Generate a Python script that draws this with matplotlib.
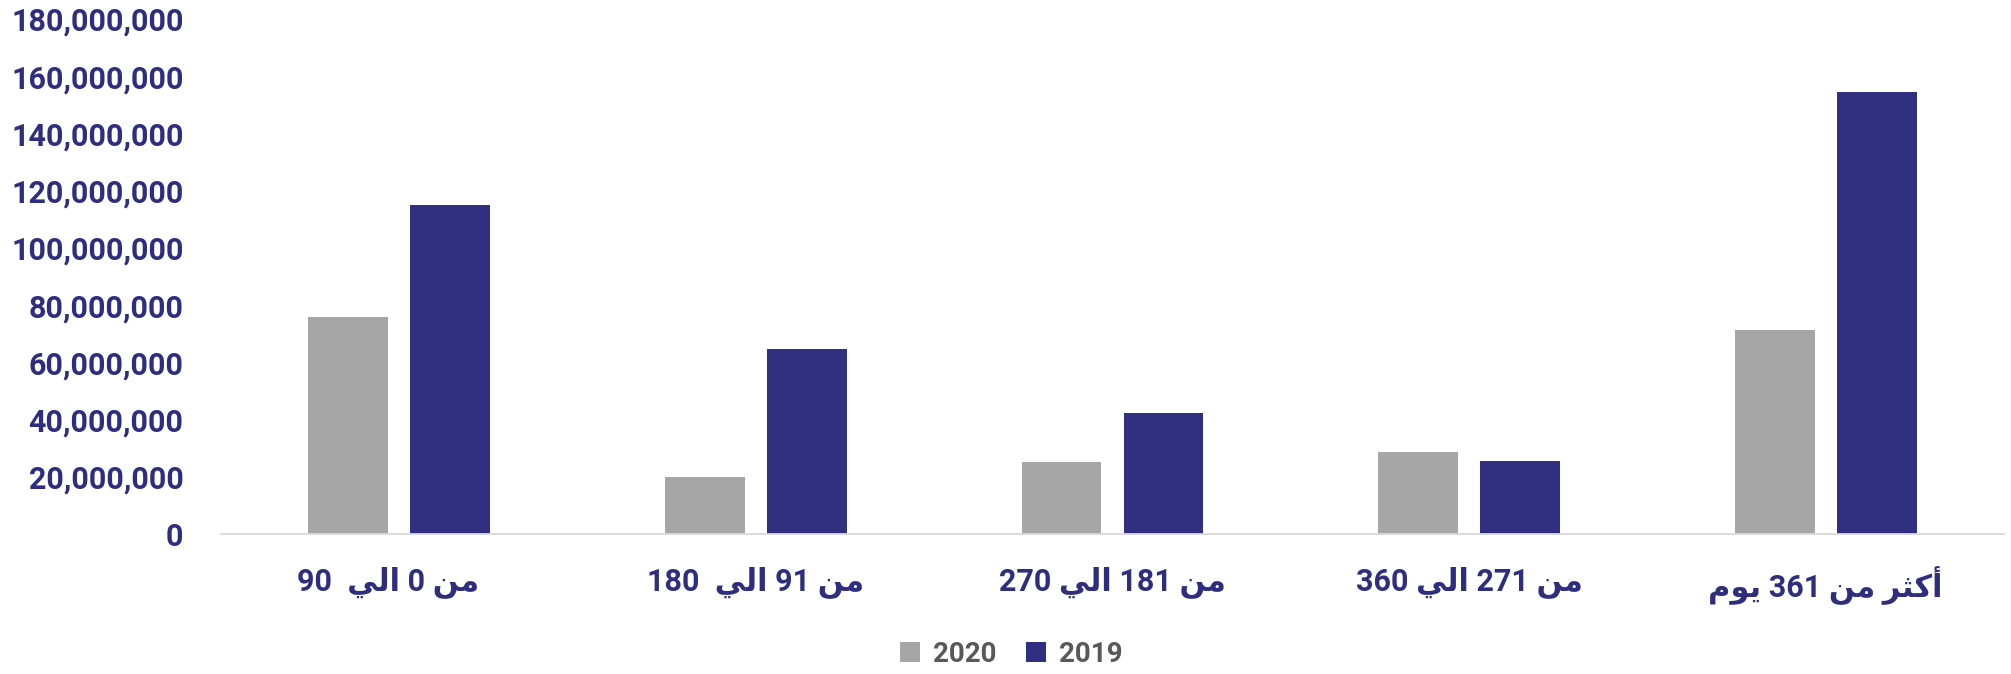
import matplotlib
matplotlib.use("Agg")
import matplotlib.pyplot as plt
from matplotlib.patches import Patch
from matplotlib.ticker import FuncFormatter
import numpy as np

categories = ["   من 0 الي  90", "من 91 الي  180", "من 181 الي 270", "من 271 الي 360", "أكثر من 361 يوم"]
series_names = ["2020", "2019"]
values_2020 = [75.7e6, 20.0e6, 25.1e6, 28.8e6, 71.3e6]
values_2019 = [115.0e6, 64.6e6, 42.2e6, 25.4e6, 154.4e6]
y_ticks = [0, 20e6, 40e6, 60e6, 80e6, 100e6, 120e6, 140e6, 160e6, 180e6]

GRAY = "#A6A6A6"
NAVY = "#312F80"
TEXT_NAVY = "#2F2E7E"
LEGEND_TEXT = "#595959"

# --- minimal Arabic shaping (presentation forms) + visual ordering ---
FORMS = {  # isolated, final, initial, medial
    '\u0627': ('\uFE8D', '\uFE8E', None, None),
    '\u0623': ('\uFE83', '\uFE84', None, None),
    '\u0644': ('\uFEDD', '\uFEDE', '\uFEDF', '\uFEE0'),
    '\u064A': ('\uFEF1', '\uFEF2', '\uFEF3', '\uFEF4'),
    '\u0645': ('\uFEE1', '\uFEE2', '\uFEE3', '\uFEE4'),
    '\u0646': ('\uFEE5', '\uFEE6', '\uFEE7', '\uFEE8'),
    '\u0643': ('\uFED9', '\uFEDA', '\uFEDB', '\uFEDC'),
    '\u062B': ('\uFE99', '\uFE9A', '\uFE9B', '\uFE9C'),
    '\u0631': ('\uFEAD', '\uFEAE', None, None),
    '\u0648': ('\uFEED', '\uFEEE', None, None),
}


def shape_word(w):
    out = []
    for i, c in enumerate(w):
        f = FORMS.get(c)
        if f is None:
            out.append(c)
            continue
        prev = w[i - 1] if i > 0 else None
        nxt = w[i + 1] if i + 1 < len(w) else None
        join_prev = prev in FORMS and FORMS[prev][2] is not None
        join_next = nxt in FORMS and f[2] is not None
        if join_prev and join_next:
            out.append(f[3])
        elif join_prev:
            out.append(f[1])
        elif join_next:
            out.append(f[2])
        else:
            out.append(f[0])
    return ''.join(out)


def visual(label):
    toks = label.split(' ')
    res = []
    for t in reversed(toks):
        if any(ch in FORMS for ch in t):
            res.append(shape_word(t)[::-1])
        else:
            res.append(t)
    return ' '.join(res)


fig = plt.figure(figsize=(20.11, 6.74), dpi=100)
ax = fig.add_axes([221 / 2011, 1 - 534 / 674, (2004 - 221) / 2011, (534 - 19) / 674])

x = np.arange(len(categories))
w = 0.224
off = 0.143
ax.bar(x - off, values_2020, width=w, color=GRAY, zorder=2)
ax.bar(x + off, values_2019, width=w, color=NAVY, zorder=2)

ax.set_xlim(-0.5, len(categories) - 0.5)
ax.set_ylim(0, 180e6)
ax.set_yticks(y_ticks)
ax.yaxis.set_major_formatter(FuncFormatter(lambda v, p: f"{int(round(v)):,}"))

for s in ["top", "right", "left"]:
    ax.spines[s].set_visible(False)
ax.spines["bottom"].set_color("#D9D9D9")
ax.spines["bottom"].set_linewidth(1.3)

ax.tick_params(axis="y", length=0, pad=27, labelsize=22, labelcolor=TEXT_NAVY)
ax.tick_params(axis="x", length=0, pad=23, labelsize=22, labelcolor=TEXT_NAVY)
for lab in ax.get_yticklabels():
    lab.set_family(["Roboto", "DejaVu Sans"])
    lab.set_fontweight("bold")

ax.set_xticks(x)
ax.set_xticklabels([visual(c) for c in categories],
                   family=["Roboto", "DejaVu Sans"], fontweight="bold")

handles = [Patch(facecolor=GRAY, edgecolor="none"), Patch(facecolor=NAVY, edgecolor="none")]
leg = fig.legend(handles, series_names, loc="center", ncol=2,
                 bbox_to_anchor=(1011 / 2011, 1 - 654 / 674), frameon=False,
                 prop={"family": ["Roboto", "DejaVu Sans"], "weight": "bold", "size": 20},
                 handlelength=0.75, handleheight=0.75, handletextpad=0.45,
                 columnspacing=1.05)
for t in leg.get_texts():
    t.set_color(LEGEND_TEXT)

fig.savefig("out.png", dpi=100, facecolor="white")
